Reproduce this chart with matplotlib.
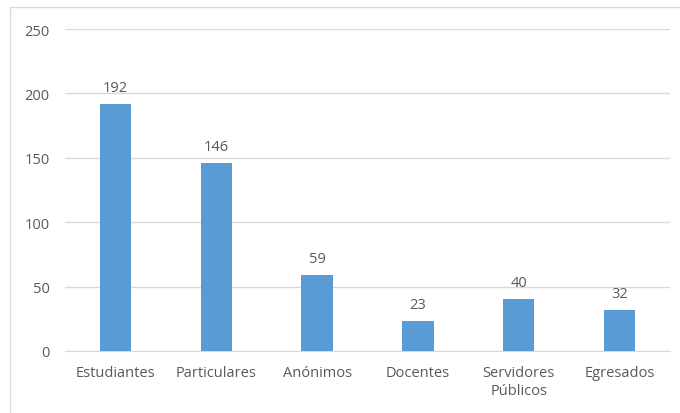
import matplotlib.pyplot as plt
from matplotlib.patches import Rectangle
import numpy as np

categories = ['Estudiantes', 'Particulares', 'Anónimos', 'Docentes', 'Servidores\nPúblicos', 'Egresados']
values = [192, 146, 59, 23, 40, 32]
yticks = [0, 50, 100, 150, 200, 250]

plt.rcParams['font.family'] = ['Open Sans', 'DejaVu Sans']
text_color = '#595959'
fsize = 10.5

fig = plt.figure(figsize=(6.8, 4.14), dpi=100)
fig.patches.append(Rectangle((10 / 680, -0.01), 1.0, 1 - 8 / 414 + 0.01,
                             transform=fig.transFigure, fill=False,
                             edgecolor='#d9d9d9', linewidth=1.0))
ax = fig.add_axes([65 / 680, 1 - 352 / 414, 605 / 680, 322 / 414])

x = np.arange(len(categories))
bars = ax.bar(x, values, width=0.31, color='#5b9bd5', zorder=3)

for xi, v in zip(x, values):
    ax.text(xi, v + 7, str(v), ha='center', va='bottom', fontsize=fsize, color=text_color)

ax.set_xlim(-0.5, len(categories) - 0.5)
ax.set_ylim(0, 250)
ax.set_yticks(yticks)
ax.set_xticks(x)
ax.set_xticklabels(categories, fontsize=fsize, color=text_color, linespacing=1.25)
ax.tick_params(axis='y', labelsize=fsize, labelcolor=text_color, length=0, pad=11)
ax.tick_params(axis='x', length=0, pad=10)
ax.grid(axis='y', color='#d9d9d9', linewidth=1.0, zorder=0)
for s in ['top', 'right', 'left']:
    ax.spines[s].set_visible(False)
ax.spines['bottom'].set_color('#d9d9d9')

plt.savefig('out.png', dpi=100)
